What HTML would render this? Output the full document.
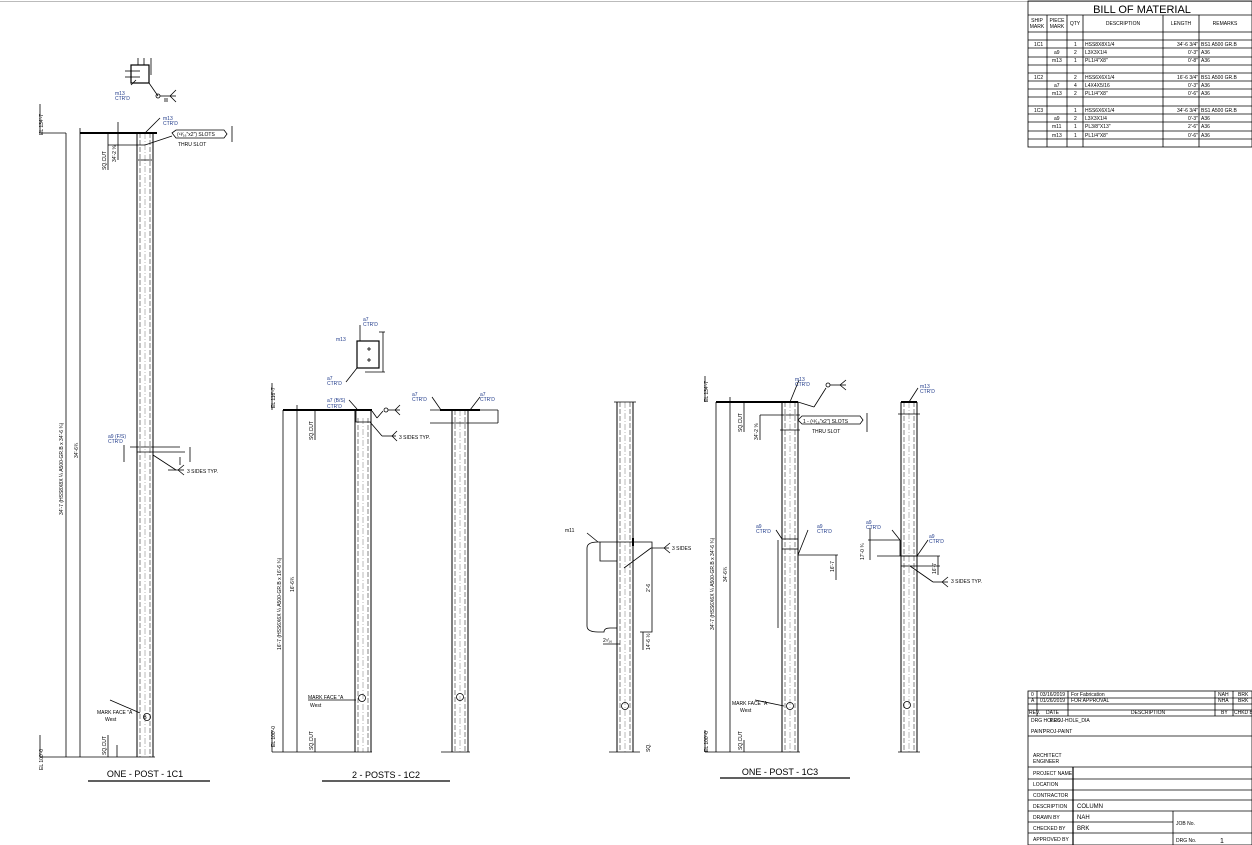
<!DOCTYPE html>
<html><head><meta charset="utf-8"><style>
html,body{margin:0;padding:0;background:#fff;}
svg{display:block;font-family:"Liberation Sans",sans-serif;}
.t{font-size:5px;fill:#000;}
.b{font-size:5px;fill:#1f3a8a;}
.d{stroke:#555;stroke-dasharray:5,2;stroke-width:0.7;}
.c{stroke:#777;stroke-dasharray:6,2,1,2;stroke-width:0.5;}
</style></head><body>
<svg width="1252" height="845" viewBox="0 0 1252 845" xmlns="http://www.w3.org/2000/svg">
<rect width="1252" height="845" fill="#fff"/>
<line x1="0" y1="1.5" x2="1252" y2="1.5" stroke="#bbb" stroke-width="1"/>

<!-- ============ 1C1 ============ -->
<g stroke="#000" fill="none" stroke-width="0.8">
 <line x1="137" y1="133" x2="137" y2="757" stroke-width="1"/>
 <line x1="153" y1="133" x2="153" y2="757" stroke-width="1"/>
 <line x1="140" y1="133" x2="140" y2="757" class="d"/>
 <line x1="150" y1="133" x2="150" y2="757" class="d"/>
 <line x1="145" y1="133" x2="145" y2="757" class="c"/>
 <line x1="80" y1="133" x2="157" y2="133" stroke-width="2"/>
 <line x1="66" y1="133" x2="66" y2="757"/>
 <line x1="80" y1="128" x2="80" y2="757"/>
 <line x1="40" y1="757" x2="155" y2="757"/>
 <line x1="40" y1="133" x2="66" y2="133"/>
 <line x1="40" y1="104" x2="40" y2="133"/>
 <line x1="40" y1="735" x2="40" y2="757"/>
 <line x1="118" y1="122" x2="118" y2="160"/>
 <line x1="108" y1="145" x2="145" y2="145"/>
 <line x1="108" y1="133" x2="108" y2="170"/>
 <line x1="117" y1="745" x2="117" y2="757"/>
 <line x1="108" y1="735" x2="108" y2="757"/>
 <line x1="145" y1="133" x2="160" y2="118"/>
 <line x1="145" y1="145" x2="172" y2="136"/>
 <path d="M172 133 L176 130 L224 130 L227 134 L224 138 L176 138 Z"/>
 <line x1="232" y1="126" x2="232" y2="142"/>
 <line x1="138" y1="160" x2="152" y2="160"/>
 <rect x="131" y="65" width="18" height="18" stroke-width="1.2"/>
 <line x1="138" y1="58" x2="138" y2="65"/><line x1="144" y1="58" x2="144" y2="65"/><line x1="151" y1="58" x2="151" y2="75"/>
 <line x1="125" y1="71" x2="140" y2="71"/><line x1="125" y1="77" x2="140" y2="77"/>
 <line x1="149" y1="83" x2="158" y2="96"/><circle cx="158" cy="96" r="2"/>
 <line x1="160" y1="96" x2="176" y2="96"/><line x1="170" y1="96" x2="176" y2="90"/><line x1="170" y1="96" x2="176" y2="102"/>
 <line x1="165" y1="98" x2="165" y2="102"/><line x1="167" y1="98" x2="167" y2="102"/>
 <line x1="131" y1="85" x2="136" y2="80"/>
 <line x1="130" y1="447" x2="153" y2="447"/>
 <line x1="137" y1="452" x2="185" y2="452"/>
 <line x1="153" y1="447" x2="180" y2="447"/>
 <line x1="190" y1="447" x2="190" y2="462"/>
 <line x1="180" y1="457" x2="180" y2="465"/>
 <line x1="153" y1="455" x2="176" y2="470"/>
 <line x1="168" y1="470" x2="184" y2="470"/><line x1="178" y1="470" x2="184" y2="465"/><line x1="178" y1="470" x2="184" y2="475"/>
 <line x1="124" y1="445" x2="124" y2="462"/>
 <line x1="110" y1="700" x2="140" y2="713"/>
 <circle cx="147" cy="717" r="3.5"/>
</g>
<text class="t" transform="translate(63,515) rotate(-90)">34'-7 (HSS8X8X ¼ A500-GR.B x 34'-6 ¾)</text>
<text class="t" transform="translate(78,458) rotate(-90)">34'-6¾</text>
<text class="t" transform="translate(43,135) rotate(-90)">EL 134'-7</text>
<text class="t" transform="translate(43,770) rotate(-90)">EL 100'-0</text>
<text class="t" transform="translate(106,170) rotate(-90)">SQ.CUT</text>
<text class="t" transform="translate(116,162) rotate(-90)">34'-2 ⅝</text>
<text class="t" transform="translate(106,755) rotate(-90)">SQ.CUT</text>
<text class="b" x="163" y="120">m13</text><text class="b" x="163" y="125">CTR'D</text>
<text class="t" x="177" y="136">(¹³⁄₁₆"x2") SLOTS</text>
<text class="t" x="178" y="146">THRU SLOT</text>
<text class="b" x="115" y="95">m13</text><text class="b" x="115" y="100">CTR'D</text>
<text class="b" x="108" y="438">a9 (F/S)</text><text class="b" x="108" y="443">CTR'D</text>
<text class="t" x="187" y="473">3 SIDES TYP.</text>
<text class="t" x="97" y="714">MARK FACE "A</text><text class="t" x="105" y="721">West</text>
<text class="t" x="145" y="719" text-anchor="middle" font-size="4">B</text>
<text x="145" y="777" font-size="9" text-anchor="middle">ONE - POST - 1C1</text>
<line x1="88" y1="781" x2="210" y2="781" stroke="#000" stroke-width="1.2"/>

<!-- ============ 1C2 ============ -->
<g stroke="#000" fill="none" stroke-width="0.8">
 <line x1="355" y1="410" x2="355" y2="752" stroke-width="1"/><line x1="371" y1="410" x2="371" y2="752" stroke-width="1"/>
 <line x1="358" y1="418" x2="358" y2="752" class="d"/><line x1="368" y1="418" x2="368" y2="752" class="d"/>
 <line x1="363" y1="418" x2="363" y2="752" class="c"/>
 <line x1="283" y1="410" x2="372" y2="410" stroke-width="2"/>
 <rect x="356" y="410" width="15" height="12"/>
 <line x1="283" y1="410" x2="283" y2="752"/><line x1="297" y1="405" x2="297" y2="752"/>
 <line x1="272" y1="752" x2="372" y2="752"/>
 <line x1="272" y1="383" x2="272" y2="410"/><line x1="272" y1="730" x2="272" y2="752"/>
 <line x1="315" y1="410" x2="315" y2="440"/>
 <line x1="315" y1="738" x2="315" y2="752"/>
 <line x1="349" y1="400" x2="357" y2="409"/>
 <line x1="372" y1="411" x2="377" y2="418"/><line x1="377" y1="418" x2="383" y2="411"/><circle cx="386" cy="410" r="2"/>
 <line x1="388" y1="410" x2="400" y2="410"/><line x1="395" y1="410" x2="400" y2="405"/><line x1="395" y1="410" x2="400" y2="415"/>
 <line x1="370" y1="422" x2="382" y2="436"/><line x1="382" y1="436" x2="396" y2="436"/><line x1="392" y1="436" x2="397" y2="431"/><line x1="392" y1="436" x2="397" y2="441"/>
 <line x1="308" y1="700" x2="356" y2="700"/>
 <circle cx="362" cy="698" r="3.5"/>
 <line x1="452" y1="410" x2="452" y2="752" stroke-width="1"/><line x1="468" y1="410" x2="468" y2="752" stroke-width="1"/>
 <line x1="455" y1="410" x2="455" y2="752" class="d"/><line x1="465" y1="410" x2="465" y2="752" class="d"/>
 <line x1="460" y1="410" x2="460" y2="752" class="c"/>
 <line x1="440" y1="410" x2="480" y2="410" stroke-width="2"/>
 <line x1="430" y1="410" x2="498" y2="410"/><line x1="430" y1="423" x2="498" y2="423"/>
 <line x1="498" y1="410" x2="498" y2="423"/>
 <line x1="432" y1="397" x2="441" y2="410"/><line x1="480" y1="397" x2="470" y2="410"/>
 <line x1="441" y1="752" x2="470" y2="752"/>
 <circle cx="460" cy="697" r="3.5"/>
 <rect x="357" y="341" width="22" height="27" stroke-width="1.2"/>
 <line x1="360" y1="325" x2="360" y2="341"/>
 <line x1="379" y1="332" x2="385" y2="332"/><line x1="383" y1="332" x2="383" y2="372"/>
 <line x1="365" y1="372" x2="385" y2="372"/><line x1="346" y1="382" x2="357" y2="368"/>
 <line x1="367" y1="349" x2="371" y2="349"/><line x1="369" y1="347" x2="369" y2="351"/>
 <line x1="367" y1="360" x2="371" y2="360"/><line x1="369" y1="358" x2="369" y2="362"/>
</g>
<text class="t" transform="translate(275,408) rotate(-90)">EL 116'-7</text>
<text class="t" transform="translate(275,747) rotate(-90)">EL 100'-0</text>
<text class="t" transform="translate(281,650) rotate(-90)">16'-7 (HSS6X6X ¼ A500-GR.B x 16'-6 ¾)</text>
<text class="t" transform="translate(294,592) rotate(-90)">16'-6¾</text>
<text class="t" transform="translate(313,440) rotate(-90)">SQ.CUT</text>
<text class="t" transform="translate(313,750) rotate(-90)">SQ.CUT</text>
<text class="b" x="327" y="402">a7 (B/S)</text><text class="b" x="327" y="408">CTR'D</text>
<text class="t" x="399" y="439">3 SIDES TYP.</text>
<text class="b" x="363" y="321">a7</text><text class="b" x="363" y="326">CTR'D</text>
<text class="b" x="336" y="341">m13</text>
<text class="b" x="327" y="380">a7</text><text class="b" x="327" y="385">CTR'D</text>
<text class="b" x="412" y="396">a7</text><text class="b" x="412" y="401">CTR'D</text>
<text class="b" x="480" y="396">a7</text><text class="b" x="480" y="401">CTR'D</text>
<text class="t" x="308" y="699">MARK FACE "A</text><text class="t" x="310" y="707">West</text>
<text x="386" y="778" font-size="9" text-anchor="middle">2 - POSTS - 1C2</text>
<line x1="322" y1="781" x2="450" y2="781" stroke="#000" stroke-width="1.2"/>

<!-- ============ m11 detail ============ -->
<g stroke="#000" fill="none" stroke-width="0.8">
 <line x1="617" y1="402" x2="617" y2="752" stroke-width="1"/><line x1="633" y1="402" x2="633" y2="752" stroke-width="1"/>
 <line x1="620" y1="402" x2="620" y2="752" class="d"/><line x1="630" y1="402" x2="630" y2="752" class="d"/>
 <line x1="625" y1="402" x2="625" y2="752" class="c"/>
 <line x1="614" y1="402" x2="636" y2="402"/>
 <line x1="609" y1="752" x2="640" y2="752"/>
 <path d="M598 542 L652 542 L652 632 L640 632 M598 542 Q587 542 587 548 L587 626 Q587 632 598 632 L604 632 Q604 628 610 628 L617 628"/>
 <path d="M600 542 L600 561 L617 561"/>
 <line x1="624" y1="568" x2="651" y2="548"/>
 <line x1="651" y1="548" x2="669" y2="548"/><line x1="664" y1="548" x2="670" y2="543"/><line x1="664" y1="548" x2="670" y2="553"/>
 <line x1="643" y1="632" x2="643" y2="650"/>
 <line x1="603" y1="644" x2="620" y2="644"/>
 <line x1="633" y1="538" x2="633" y2="546" stroke-width="2"/>
 <line x1="587" y1="533" x2="598" y2="542"/>
 <circle cx="625" cy="706" r="3.5"/>
</g>
<text class="t" x="565" y="532">m11</text>
<text class="t" x="672" y="550">3 SIDES</text>
<text class="t" transform="translate(650,592) rotate(-90)">2'-6</text>
<text class="t" transform="translate(650,650) rotate(-90)">14'-6 ½</text>
<text class="t" x="603" y="642">2⁷⁄₁₆</text>
<text class="t" transform="translate(650,752) rotate(-90)">SQ.</text>

<!-- ============ 1C3 ============ -->
<g stroke="#000" fill="none" stroke-width="0.8">
 <line x1="782" y1="402" x2="782" y2="752" stroke-width="1"/><line x1="798" y1="402" x2="798" y2="752" stroke-width="1"/>
 <line x1="785" y1="402" x2="785" y2="752" class="d"/><line x1="795" y1="402" x2="795" y2="752" class="d"/>
 <line x1="790" y1="402" x2="790" y2="752" class="c"/>
 <line x1="716" y1="402" x2="798" y2="402" stroke-width="2"/>
 <line x1="716" y1="402" x2="716" y2="752"/><line x1="730" y1="397" x2="730" y2="752"/>
 <line x1="705" y1="752" x2="800" y2="752"/>
 <line x1="705" y1="376" x2="705" y2="402"/><line x1="705" y1="730" x2="705" y2="752"/>
 <line x1="744" y1="402" x2="744" y2="432"/>
 <line x1="760" y1="415" x2="760" y2="440"/>
 <line x1="760" y1="415" x2="800" y2="415"/>
 <line x1="780" y1="430" x2="800" y2="430"/>
 <line x1="790" y1="402" x2="799" y2="380"/>
 <line x1="798" y1="402" x2="814" y2="407"/><line x1="814" y1="407" x2="826" y2="388"/><circle cx="828" cy="385" r="2"/>
 <line x1="830" y1="385" x2="846" y2="385"/><line x1="840" y1="385" x2="846" y2="380"/><line x1="840" y1="385" x2="846" y2="390"/>
 <path d="M798 420 L802 416 L860 416 L863 420 L860 424 L802 424 Z"/>
 <line x1="867" y1="413" x2="867" y2="432"/>
 <rect x="782" y="539" width="16" height="10"/>
 <line x1="776" y1="530" x2="782" y2="539"/>
 <line x1="808" y1="530" x2="798" y2="555"/>
 <line x1="798" y1="555" x2="838" y2="555"/><line x1="836" y1="555" x2="836" y2="580"/>
 <line x1="778" y1="540" x2="778" y2="628"/>
 <line x1="755" y1="700" x2="784" y2="706"/>
 <circle cx="790" cy="706" r="3.5"/>
 <line x1="744" y1="740" x2="744" y2="752"/>
 <line x1="901" y1="402" x2="901" y2="752" stroke-width="1"/><line x1="917" y1="402" x2="917" y2="752" stroke-width="1"/>
 <line x1="904" y1="402" x2="904" y2="752" class="d"/><line x1="914" y1="402" x2="914" y2="752" class="d"/>
 <line x1="909" y1="402" x2="909" y2="752" class="c"/>
 <line x1="901" y1="402" x2="917" y2="402" stroke-width="2"/>
 <line x1="898" y1="414" x2="920" y2="414"/>
 <line x1="909" y1="402" x2="918" y2="388"/>
 <line x1="868" y1="540" x2="900" y2="540"/><line x1="892" y1="530" x2="900" y2="540" /><line x1="900" y1="540" x2="900" y2="556"/>
 <rect x="901" y="556" width="16" height="10"/>
 <line x1="877" y1="556" x2="940" y2="556"/><line x1="917" y1="566" x2="940" y2="566"/>
 <line x1="870" y1="528" x2="870" y2="560"/>
 <line x1="917" y1="556" x2="928" y2="540"/>
 <line x1="910" y1="566" x2="933" y2="582"/><line x1="933" y1="582" x2="948" y2="582"/><line x1="942" y1="582" x2="948" y2="577"/><line x1="942" y1="582" x2="948" y2="587"/>
 <line x1="938" y1="556" x2="938" y2="575"/>
 <circle cx="907" cy="705" r="3.5"/>
 <line x1="898" y1="752" x2="920" y2="752"/>
</g>
<text class="t" transform="translate(708,402) rotate(-90)">EL 134'-7</text>
<text class="t" transform="translate(708,752) rotate(-90)">EL 100'-0</text>
<text class="t" transform="translate(714,630) rotate(-90)">34'-7 (HSS6X6X ¼ A500-GR.B x 34'-6 ¾)</text>
<text class="t" transform="translate(727,582) rotate(-90)">34'-6¾</text>
<text class="t" transform="translate(742,432) rotate(-90)">SQ.CUT</text>
<text class="t" transform="translate(758,440) rotate(-90)">34'-2 ⅝</text>
<text class="t" transform="translate(742,750) rotate(-90)">SQ.CUT</text>
<text class="b" x="795" y="381">m13</text><text class="b" x="795" y="386">CTR'D</text>
<text class="t" x="803" y="423">1 - (¹³⁄₁₆"x2") SLOTS</text>
<text class="t" x="812" y="433">THRU SLOT</text>
<text class="b" x="756" y="528">a9</text><text class="b" x="756" y="533">CTR'D</text>
<text class="b" x="817" y="528">a9</text><text class="b" x="817" y="533">CTR'D</text>
<text class="t" transform="translate(834,572) rotate(-90)">16'-7</text>
<text class="t" x="732" y="705">MARK FACE "A</text><text class="t" x="740" y="712">West</text>
<text class="b" x="866" y="524">a9</text><text class="b" x="866" y="529">CTR'D</text>
<text class="b" x="929" y="538">a9</text><text class="b" x="929" y="543">CTR'D</text>
<text class="b" x="920" y="388">m13</text><text class="b" x="920" y="393">CTR'D</text>
<text class="t" transform="translate(864,560) rotate(-90)">17'-0 ¾</text>
<text class="t" transform="translate(936,574) rotate(-90)">16'-7</text>
<text class="t" x="951" y="583">3 SIDES TYP.</text>
<text x="780" y="775" font-size="9" text-anchor="middle">ONE - POST - 1C3</text>
<line x1="720" y1="778" x2="850" y2="778" stroke="#000" stroke-width="1.2"/>

<!-- ============ BOM ============ -->
<g stroke="#000" fill="none" stroke-width="0.8">
 <rect x="1028" y="1" width="224" height="146"/>
 <line x1="1028" y1="15" x2="1252" y2="15"/>
 <line x1="1028" y1="32" x2="1252" y2="32"/>
 <line x1="1028" y1="40" x2="1252" y2="40"/><line x1="1028" y1="48" x2="1252" y2="48"/><line x1="1028" y1="57" x2="1252" y2="57"/>
 <line x1="1028" y1="65" x2="1252" y2="65"/><line x1="1028" y1="73" x2="1252" y2="73"/><line x1="1028" y1="81" x2="1252" y2="81"/>
 <line x1="1028" y1="89" x2="1252" y2="89"/><line x1="1028" y1="97" x2="1252" y2="97"/><line x1="1028" y1="106" x2="1252" y2="106"/>
 <line x1="1028" y1="114" x2="1252" y2="114"/><line x1="1028" y1="122" x2="1252" y2="122"/><line x1="1028" y1="131" x2="1252" y2="131"/>
 <line x1="1028" y1="139" x2="1252" y2="139"/>
 <line x1="1047" y1="15" x2="1047" y2="147"/><line x1="1067" y1="15" x2="1067" y2="147"/><line x1="1083" y1="15" x2="1083" y2="147"/>
 <line x1="1163" y1="15" x2="1163" y2="147"/><line x1="1199" y1="15" x2="1199" y2="147"/>
</g>
<text x="1142" y="13" font-size="11" text-anchor="middle">BILL OF MATERIAL</text>
<g class="t" font-size="5" text-anchor="middle">
 <text x="1037" y="22">SHIP</text><text x="1037" y="28">MARK</text>
 <text x="1057" y="22">PIECE</text><text x="1057" y="28">MARK</text>
 <text x="1075" y="25">QTY</text><text x="1123" y="25">DESCRIPTION</text>
 <text x="1181" y="25">LENGTH</text><text x="1225" y="25">REMARKS</text>
</g>
<g class="t" font-size="3.8">
 <text x="1034" y="46">1C1</text><text x="1074" y="46">1</text><text x="1085" y="46">HSS8X8X1/4</text><text x="1177" y="46">34'-6 3/4"</text><text x="1201" y="46">BS1 A500 GR.B</text>
 <text x="1054" y="54">a9</text><text x="1074" y="54">2</text><text x="1085" y="54">L3X3X1/4</text><text x="1188" y="54">0'-3"</text><text x="1201" y="54">A36</text>
 <text x="1052" y="62">m13</text><text x="1074" y="62">1</text><text x="1085" y="62">PL1/4"X8"</text><text x="1188" y="62">0'-8"</text><text x="1201" y="62">A36</text>
 <text x="1034" y="79">1C2</text><text x="1074" y="79">2</text><text x="1085" y="79">HSS6X6X1/4</text><text x="1177" y="79">16'-6 3/4"</text><text x="1201" y="79">BS1 A500 GR.B</text>
 <text x="1054" y="87">a7</text><text x="1074" y="87">4</text><text x="1085" y="87">L4X4X5/16</text><text x="1188" y="87">0'-3"</text><text x="1201" y="87">A36</text>
 <text x="1052" y="95">m13</text><text x="1074" y="95">2</text><text x="1085" y="95">PL1/4"X8"</text><text x="1188" y="95">0'-6"</text><text x="1201" y="95">A36</text>
 <text x="1034" y="112">1C3</text><text x="1074" y="112">1</text><text x="1085" y="112">HSS6X6X1/4</text><text x="1177" y="112">34'-6 3/4"</text><text x="1201" y="112">BS1 A500 GR.B</text>
 <text x="1054" y="120">a9</text><text x="1074" y="120">2</text><text x="1085" y="120">L3X3X1/4</text><text x="1188" y="120">0'-3"</text><text x="1201" y="120">A36</text>
 <text x="1052" y="128">m11</text><text x="1074" y="128">1</text><text x="1085" y="128">PL3/8"X13"</text><text x="1188" y="128">2'-6"</text><text x="1201" y="128">A36</text>
 <text x="1052" y="137">m13</text><text x="1074" y="137">1</text><text x="1085" y="137">PL1/4"X8"</text><text x="1188" y="137">0'-6"</text><text x="1201" y="137">A36</text>
</g>

<!-- ============ Title block ============ -->
<g stroke="#000" fill="none" stroke-width="0.8">
 <rect x="1028" y="691" width="224" height="154"/>
 <line x1="1028" y1="698" x2="1252" y2="698"/><line x1="1028" y1="704" x2="1252" y2="704"/><line x1="1028" y1="710" x2="1252" y2="710"/>
 <line x1="1037" y1="691" x2="1037" y2="716"/><line x1="1068" y1="691" x2="1068" y2="716"/>
 <line x1="1215" y1="691" x2="1215" y2="716"/><line x1="1233" y1="691" x2="1233" y2="716"/>
 <line x1="1028" y1="716" x2="1252" y2="716"/>
 <line x1="1028" y1="736" x2="1252" y2="736"/>
 <line x1="1028" y1="767" x2="1252" y2="767"/><line x1="1028" y1="779" x2="1252" y2="779"/>
 <line x1="1028" y1="790" x2="1252" y2="790"/><line x1="1028" y1="800" x2="1252" y2="800"/>
 <line x1="1028" y1="811" x2="1252" y2="811"/><line x1="1028" y1="822" x2="1173" y2="822"/>
 <line x1="1028" y1="833" x2="1252" y2="833"/>
 <line x1="1073" y1="767" x2="1073" y2="845" stroke-width="1.2"/>
 <line x1="1173" y1="811" x2="1173" y2="845"/>
</g>
<g class="t" font-size="3.6">
 <text x="1031" y="696">0</text><text x="1040" y="696">03/16/2019</text><text x="1071" y="696">For Fabrication</text><text x="1218" y="696">NAH</text><text x="1238" y="696">BRK</text>
 <text x="1031" y="702">A</text><text x="1040" y="702">01/26/2019</text><text x="1071" y="702">FOR APPROVAL</text><text x="1218" y="702">NHA</text><text x="1238" y="702">BRK</text>
 <text x="1029" y="714">REV.</text><text x="1046" y="714">DATE</text><text x="1131" y="714">DESCRIPTION</text><text x="1221" y="714">BY</text><text x="1234" y="714">CHKD BY</text>
 <text x="1031" y="722">DRG HOLES</text><text x="1050" y="722">PROJ-HOLE_DIA</text>
 <text x="1031" y="733">PAINT</text><text x="1043" y="733">PROJ-PAINT</text>
 <text x="1033" y="757">ARCHITECT</text><text x="1033" y="763">ENGINEER</text>
 <text x="1033" y="775">PROJECT NAME</text>
 <text x="1033" y="786">LOCATION</text>
 <text x="1033" y="797">CONTRACTOR</text>
 <text x="1033" y="808">DESCRIPTION</text>
 <text x="1033" y="819">DRAWN BY</text>
 <text x="1033" y="830">CHECKED BY</text>
 <text x="1033" y="841">APPROVED BY</text>
 <text x="1176" y="825">JOB No.</text>
 <text x="1176" y="842">DRG No.</text>
</g>
<text x="1077" y="808" font-size="6">COLUMN</text>
<text x="1077" y="819" font-size="6">NAH</text>
<text x="1077" y="830" font-size="6">BRK</text>
<text x="1220" y="843" font-size="7">1</text>
</svg>
</body></html>
